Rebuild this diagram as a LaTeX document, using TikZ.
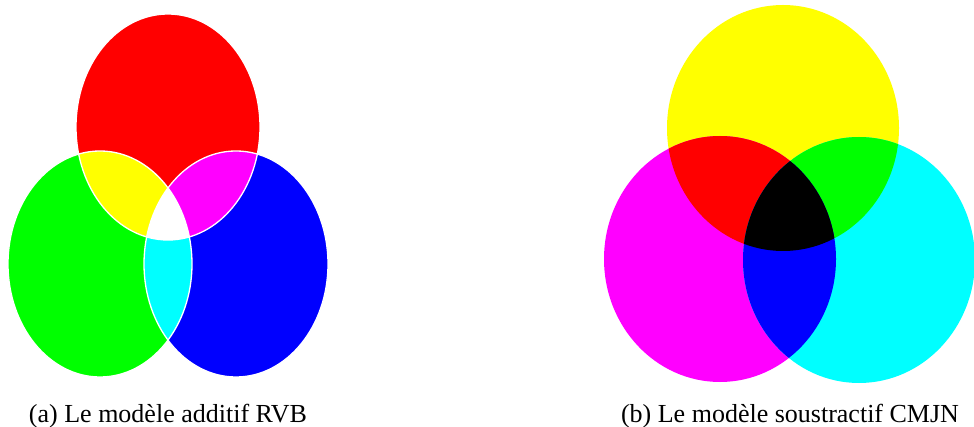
\documentclass[tikz,border=0pt]{standalone}
\usepackage{fontspec}
\setmainfont{Liberation Serif}
% pure screen primaries and secondaries
\definecolor{pRed}{RGB}{255,0,0}
\definecolor{pGreen}{RGB}{0,255,0}
\definecolor{pBlue}{RGB}{0,0,255}
\definecolor{pCyan}{RGB}{0,255,255}
\definecolor{pMagenta}{RGB}{255,0,255}
\definecolor{pYellow}{RGB}{255,255,0}
\definecolor{pWhite}{RGB}{255,255,255}
\definecolor{pBlack}{RGB}{0,0,0}
\begin{document}
\begin{tikzpicture}[x=1pt,y=-1pt,
  rgbshape/.style={x radius=92pt, y radius=113pt},
  cmyshape/.style={x radius=116pt, y radius=123pt},
  rim/.style={draw=pWhite, line width=1.3pt},
  caption/.style={anchor=base, inner sep=0pt, font=\fontsize{26}{30}\selectfont}]
\useasboundingbox (0,0) rectangle (974,427);

% ---------- additive model (RGB) ----------
\coordinate (R) at (168,127);
\coordinate (G) at (100,264);
\coordinate (B) at (236,264);
\fill[pRed]   (R) ellipse [rgbshape];
\fill[pGreen] (G) ellipse [rgbshape];
\fill[pBlue]  (B) ellipse [rgbshape];
\begin{scope}
  \clip (R) ellipse [rgbshape];
  \fill[pYellow]  (G) ellipse [rgbshape];
  \fill[pMagenta] (B) ellipse [rgbshape];
\end{scope}
\begin{scope}
  \clip (G) ellipse [rgbshape];
  \fill[pCyan] (B) ellipse [rgbshape];
  \clip (B) ellipse [rgbshape];
  \fill[pWhite] (R) ellipse [rgbshape];
\end{scope}
\draw[rim] (R) ellipse [rgbshape];
\draw[rim] (G) ellipse [rgbshape];
\draw[rim] (B) ellipse [rgbshape];

% ---------- subtractive model (CMYK) ----------
\coordinate (Y) at (783,128);
\coordinate (M) at (720,259);
\coordinate (C) at (859,260);
\fill[pYellow]  (Y) ellipse [cmyshape];
\fill[pMagenta] (M) ellipse [cmyshape];
\fill[pCyan]    (C) ellipse [cmyshape];
\begin{scope}
  \clip (Y) ellipse [cmyshape];
  \fill[pRed]   (M) ellipse [cmyshape];
  \fill[pGreen] (C) ellipse [cmyshape];
\end{scope}
\begin{scope}
  \clip (M) ellipse [cmyshape];
  \fill[pBlue] (C) ellipse [cmyshape];
  \clip (C) ellipse [cmyshape];
  \fill[pBlack] (Y) ellipse [cmyshape];
\end{scope}

% ---------- captions ----------
\node[caption] (capa) at (168,422) {(a) Le modèle additif RVB};
\node[caption] (capb) at (790,422) {(b) Le modèle soustractif CMJN};
\end{tikzpicture}
\end{document}
